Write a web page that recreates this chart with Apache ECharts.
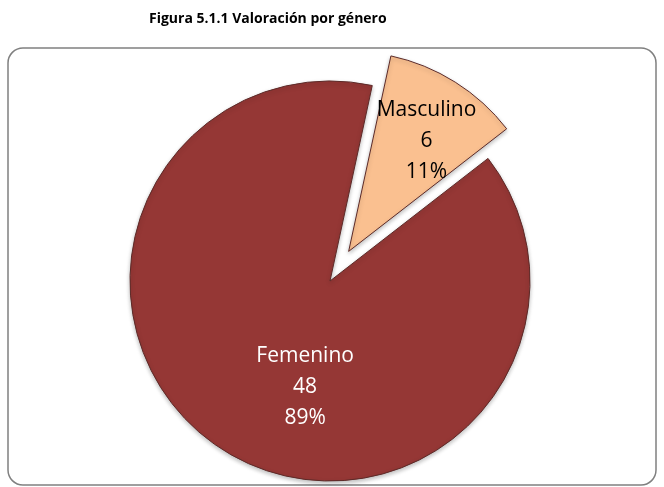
<!DOCTYPE html>
<html>
<head>
<meta charset="utf-8">
<script src="https://cdn.jsdelivr.net/npm/echarts@6.0.0/dist/echarts.min.js"></script>
<style>
  html, body { margin: 0; padding: 0; background: #fff; }
  #chart { width: 664px; height: 487px; }
</style>
</head>
<body>
<div id="chart"></div>
<script>
  // data
  var categories = ["Masculino", "Femenino"];
  var counts = [6, 48];
  var percents = ["11%", "89%"];
  var sliceColors = ["#FAC090", "#953735"];

  var chart = echarts.init(document.getElementById("chart"));

  // label shift so the texts sit where Excel put them
  var labelShift = [[23, -23], [30, 19]];

  var pieData = categories.map(function (name, i) {
    var lbl = { color: i === 0 ? "#000" : "#fff", offset: labelShift[i] };
    return {
      name: name,
      value: counts[i],
      selected: i === 0,
      itemStyle: { color: sliceColors[i] },
      label: lbl,
      select: { label: lbl, itemStyle: { color: sliceColors[i] } }
    };
  });

  chart.setOption({
    animation: false,
    title: {
      text: "Figura 5.1.1 Valoración por género",
      left: 144,
      top: 7,
      textStyle: { fontFamily: "Open Sans", fontWeight: "bold", fontSize: 14, color: "#000" }
    },
    graphic: [{
      type: "rect",
      shape: { x: 8, y: 48, width: 648, height: 437, r: 15 },
      style: { fill: "none", stroke: "#808080", lineWidth: 1.5 },
      z: -1
    }],
    series: [{
      type: "pie",
      center: [330, 281],
      radius: 200,
      startAngle: 77.8,
      selectedMode: "single",
      selectedOffset: 35,
      avoidLabelOverlap: false,
      emphasis: { disabled: true },
      itemStyle: {
        borderColor: "#5c2a28",
        borderWidth: 1,
        shadowColor: "rgba(0,0,0,0.25)",
        shadowBlur: 4,
        shadowOffsetY: 2
      },
      label: {
        position: "inside",
        fontFamily: "Open Sans",
        fontSize: 21,
        lineHeight: 31,
        formatter: function (p) {
          return p.name + "\n" + counts[p.dataIndex] + "\n" + percents[p.dataIndex];
        }
      },
      labelLine: { show: false },
      data: pieData
    }]
  });
</script>
</body>
</html>
